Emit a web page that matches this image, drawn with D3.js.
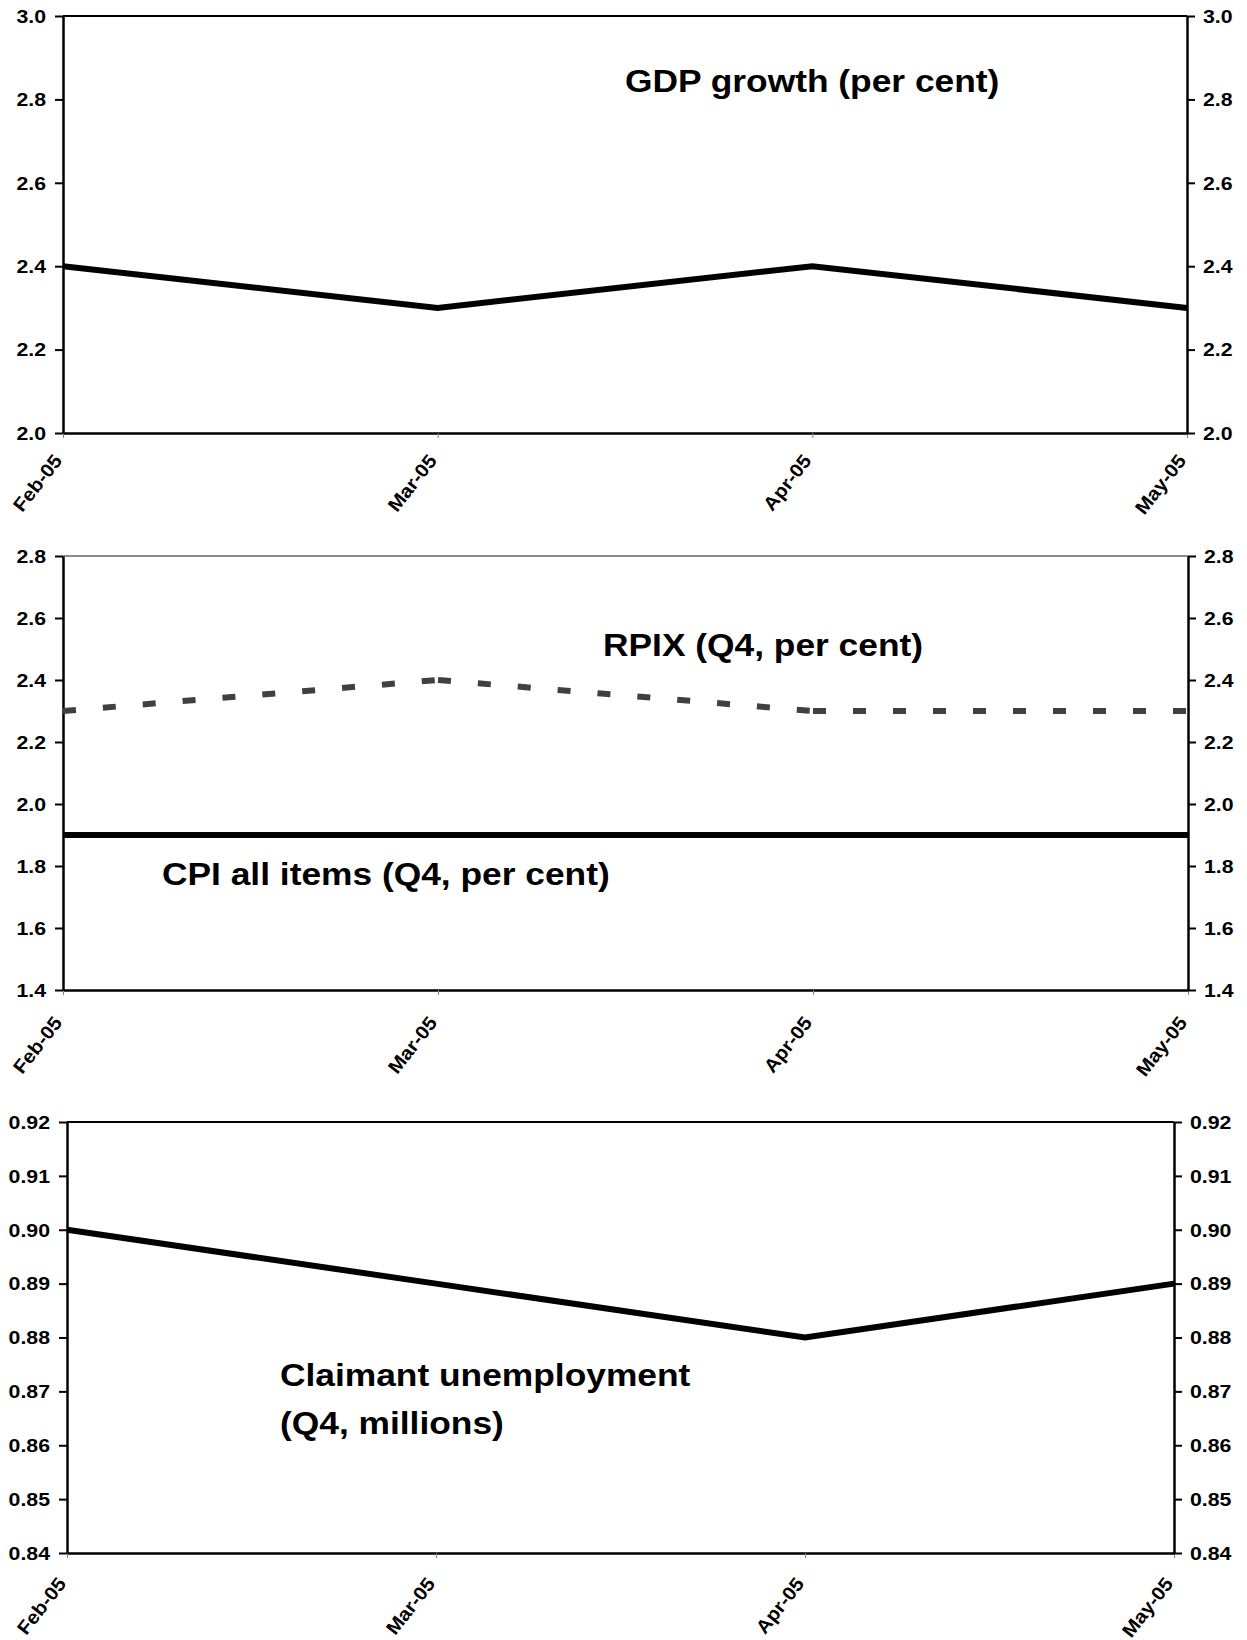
<!DOCTYPE html>
<html><head><meta charset="utf-8">
<script src="https://cdn.jsdelivr.net/npm/d3@7"></script>
<style>
body{margin:0;background:#fff}
text{font-family:"Liberation Sans",Arial,sans-serif;font-weight:bold;fill:#000}
</style>
</head><body>
<svg id="c" width="1247" height="1640"></svg>
<script>
// ---- data ----
const months = ["Feb-05","Mar-05","Apr-05","May-05"];
const gdpGrowth = [2.4, 2.3, 2.4, 2.3];
const rpix = [2.3, 2.4, 2.3, 2.3];
const cpi = [1.9, 1.9, 1.9, 1.9];
const claimant = [0.90, 0.89, 0.88, 0.89];
const gdpTicks = [2.0, 2.2, 2.4, 2.6, 2.8, 3.0];
const inflTicks = [1.4, 1.6, 1.8, 2.0, 2.2, 2.4, 2.6, 2.8];
const claimTicks = [0.84, 0.85, 0.86, 0.87, 0.88, 0.89, 0.90, 0.91, 0.92];
const gdpTitle = ["GDP growth (per cent)"];
const rpixTitle = ["RPIX (Q4, per cent)"];
const cpiTitle = ["CPI all items (Q4, per cent)"];
const claimTitle = ["Claimant unemployment", "(Q4, millions)"];

// ---- layout ----
const svg = d3.select("#c");
const SX = 1.14; // horizontal text stretch for titles
const TSX = 1.12; // horizontal stretch for tick labels

const panels = [
  {left:63, right:1187, top:16, bottom:433, domain:[2.0,3.0], ticks:gdpTicks, fmt:d3.format(".1f"), labOff:28, topColor:"#000",
   series:[{values:gdpGrowth, color:"#000", dash:null}],
   titles:[{lines:gdpTitle, x:625, y:92}]},
  {left:63, right:1188, top:556, bottom:990, domain:[1.4,2.8], ticks:inflTicks, fmt:d3.format(".1f"), labOff:33, topColor:"#8c8c8c",
   series:[{values:rpix, color:"#404040", dash:"13,27"},{values:cpi, color:"#000", dash:null}],
   titles:[{lines:rpixTitle, x:603, y:656},{lines:cpiTitle, x:162, y:885}]},
  {left:67, right:1174, top:1122, bottom:1553, domain:[0.84,0.92], ticks:claimTicks, fmt:d3.format(".2f"), labOff:31, topColor:"#000",
   series:[{values:claimant, color:"#000", dash:null}],
   titles:[{lines:claimTitle, x:280, y:1386, lh:48}]}
];

panels.forEach(p => {
  const x = d3.scalePoint().domain(months).range([p.left, p.right]);
  const y = d3.scaleLinear().domain(p.domain).range([p.bottom, p.top]);
  const g = svg.append("g");

  // top border
  g.append("line").attr("x1", p.left).attr("x2", p.right).attr("y1", p.top).attr("y2", p.top)
    .attr("stroke", p.topColor).attr("stroke-width", 2);

  // x axis (bottom)
  const xa = g.append("g").attr("transform", `translate(0,${p.bottom})`)
    .call(d3.axisBottom(x).tickSize(5).tickSizeOuter(0).tickFormat(""));
  xa.select(".domain").attr("stroke", "#000").attr("stroke-width", 2.5);
  xa.selectAll(".tick line").attr("stroke", "#808080").attr("stroke-width", 1);

  // x labels
  g.selectAll(".xl").data(months).join("text").attr("class","xl")
    .attr("text-anchor", "end").attr("font-size", 19)
    .attr("transform", d => `translate(${x(d)},${p.bottom + p.labOff}) rotate(-52) scale(1.08,1)`)
    .text(d => d);

  // left axis
  const la = g.append("g").attr("transform", `translate(${p.left},0)`)
    .call(d3.axisLeft(y).tickValues(p.ticks).tickSize(8).tickSizeOuter(0).tickFormat(""));
  la.select(".domain").attr("stroke", "#000").attr("stroke-width", 2.5);
  la.selectAll(".tick line").attr("stroke", "#000").attr("stroke-width", 2);

  // right axis
  const ra = g.append("g").attr("transform", `translate(${p.right},0)`)
    .call(d3.axisRight(y).tickValues(p.ticks).tickSize(8).tickSizeOuter(0).tickFormat(""));
  ra.select(".domain").attr("stroke", "#000").attr("stroke-width", 2.5);
  ra.selectAll(".tick line").attr("stroke", "#000").attr("stroke-width", 2);

  // y labels
  g.selectAll(".yl").data(p.ticks).join("text").attr("class","yl")
    .attr("text-anchor", "end").attr("font-size", 19).attr("dy", "0.36em")
    .attr("transform", d => `translate(${p.left - 17},${y(d)}) scale(${TSX},1)`)
    .text(p.fmt);
  g.selectAll(".yr").data(p.ticks).join("text").attr("class","yr")
    .attr("text-anchor", "start").attr("font-size", 19).attr("dy", "0.36em")
    .attr("transform", d => `translate(${p.right + 16},${y(d)}) scale(${TSX},1)`)
    .text(p.fmt);

  // series
  p.series.forEach(s => {
    const pts = s.values.map((v, i) => [x(months[i]), y(v)]);
    if (s.dash) {
      // dashed: each segment drawn separately so the pattern restarts at each point
      for (let i = 0; i < pts.length - 1; i++) {
        g.append("path").attr("d", d3.line()([pts[i], pts[i+1]]))
          .attr("fill", "none").attr("stroke", s.color).attr("stroke-width", 6)
          .attr("stroke-dasharray", s.dash);
      }
    } else {
      g.append("path").attr("d", d3.line()(pts))
        .attr("fill", "none").attr("stroke", s.color).attr("stroke-width", 6)
        .attr("stroke-linejoin", "miter");
    }
  });

  // titles
  p.titles.forEach(t => {
    t.lines.forEach((ln, i) => {
      g.append("text").attr("font-size", 31)
        .attr("transform", `translate(${t.x},${t.y + i * (t.lh || 0)}) scale(${SX},1)`)
        .text(ln);
    });
  });
});
</script>
</body></html>
